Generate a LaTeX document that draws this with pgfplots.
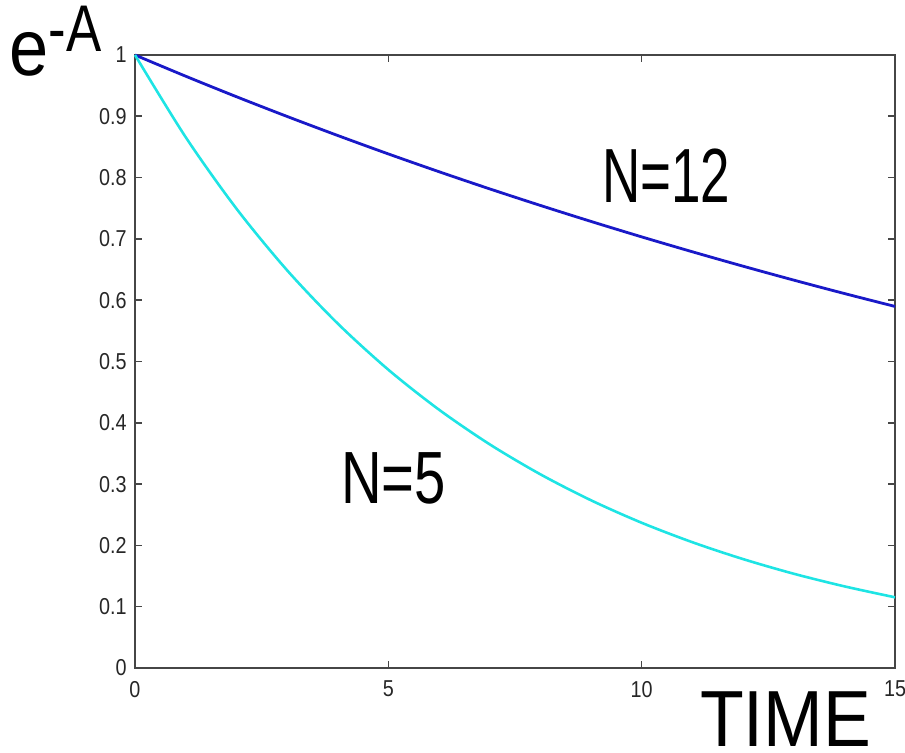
\documentclass[border=0pt]{standalone}
\usepackage{fontspec}
\setmainfont{Liberation Sans}
\usepackage{pgfplots}
\pgfplotsset{compat=1.18}
\usepackage{graphicx}

\definecolor{nblue}{RGB}{25,25,200}
\definecolor{ncyan}{RGB}{30,228,228}
\definecolor{axgray}{RGB}{70,70,70}

\newcommand{\tl}[1]{\scalebox{0.86}[1]{#1}}

\begin{document}
\begin{tikzpicture}
\begin{axis}[
    scale only axis,
    width=380pt, height=306.5pt,
    xmin=0, xmax=15, ymin=0, ymax=1,
    xtick={0,5,10,15},
    ytick={0,0.1,0.2,0.3,0.4,0.5,0.6,0.7,0.8,0.9,1},
    yticklabels={\tl{0},\tl{0.1},\tl{0.2},\tl{0.3},\tl{0.4},\tl{0.5},\tl{0.6},\tl{0.7},\tl{0.8},\tl{0.9},\tl{1}},
    xticklabels={\tl{0},\tl{5},\tl{10},\tl{15}},
    tick align=inside,
    major tick length=3.5pt,
    axis line style={axgray, line width=1pt},
    every tick/.style={axgray, line width=0.8pt},
    /pgf/number format/assume math mode=true,
    tick label style={font=\fontsize{11.5}{12}\selectfont, text=black!85},
    xticklabel style={yshift=-3pt},
    yticklabel style={xshift=-0.7pt},
    clip=false,
]
% N=12
\addplot[nblue, line width=1.4pt, smooth] coordinates {
    (0,1) (1,0.9654) (2,0.9320) (3,0.8998) (4,0.8687) (5,0.8386)
    (6,0.8096) (7,0.7816) (8,0.7546) (9,0.7285) (10,0.7033)
    (11,0.6790) (12,0.6555) (13,0.6328) (14,0.6109) (15,0.5898)
};
% N=5
\addplot[ncyan, line width=1.3pt, smooth] coordinates {
    (0,1) (1,0.866) (2,0.7496) (3,0.649) (4,0.562) (5,0.4866)
    (6,0.4214) (7,0.3649) (8,0.3160) (9,0.2736) (10,0.2369)
    (11,0.2052) (12,0.1777) (13,0.1538) (14,0.1332) (15,0.1153)
};
\node[anchor=base west, inner sep=0pt, xshift=-1.5pt] at (rel axis cs:0.618,0.760)
    {\scalebox{0.69}[1]{\fontsize{38.4}{40}\selectfont N=12}};
\node[anchor=base west, inner sep=0pt, xshift=-2pt] at (rel axis cs:0.276,0.269)
    {\scalebox{0.76}[1]{\fontsize{37}{40}\selectfont N=5}};
\node[anchor=base west, inner sep=0pt, yshift=2pt] at (rel axis cs:0.743,-0.134)
    {\scalebox{0.9}[1]{\fontsize{39.8}{42}\selectfont TIME}};
\node[anchor=base west, inner sep=0pt, xshift=-0.5pt] at (rel axis cs:-0.1645,0.967)
    {\scalebox{0.88}[1]{\fontsize{40}{42}\selectfont e}\raisebox{12pt}{\scalebox{0.8}[1]{\fontsize{33}{35}\selectfont -A}}};
\end{axis}
\pgfresetboundingbox
\path[use as bounding box] (-67.5pt,-42.5pt) rectangle (385pt,334pt);
\end{tikzpicture}
\end{document}
